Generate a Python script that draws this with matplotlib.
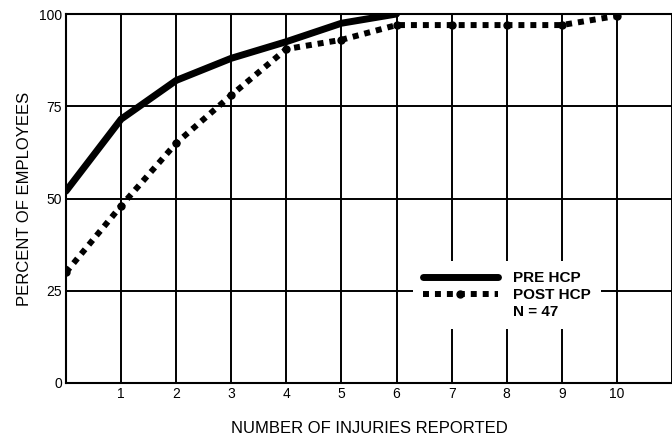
import matplotlib.pyplot as plt
from matplotlib.lines import Line2D

plt.rcParams['font.family'] = ['Liberation Sans', 'DejaVu Sans']

# data
injuries_pre = [0, 1, 2, 3, 4, 5, 6]
pct_pre = [52, 71.5, 82, 88, 92.5, 97.5, 100]
injuries_post = [0, 1, 2, 3, 4, 5, 6, 7, 8, 9, 10]
pct_post = [30, 48, 65, 78, 90.5, 93, 97, 97, 97, 97, 99.5]
x_ticks = [1, 2, 3, 4, 5, 6, 7, 8, 9, 10]
y_ticks = [0, 25, 50, 75, 100]

fig = plt.figure(figsize=(6.72, 4.38), dpi=100)
ax = fig.add_axes([66 / 672, 55 / 438, 606 / 672, 369 / 438])

# grid lines
for xv in x_ticks + [11]:
    ax.axvline(xv, color='black', lw=1.4, zorder=1)
for yv in y_ticks[1:]:
    ax.axhline(yv, color='black', lw=1.4, zorder=1)

ax.plot(injuries_pre, pct_pre, color='black', lw=5,
        solid_capstyle='round', solid_joinstyle='round', zorder=3)
ax.plot(injuries_post, pct_post, color='black', lw=4.3,
        linestyle=(0, (1, 1)), dash_capstyle='butt',
        marker='o', markersize=5, zorder=3)

ax.set_xlim(0, 11)
ax.set_ylim(0, 100)
ax.set_xticks(x_ticks)
ax.set_yticks(y_ticks)
ax.tick_params(length=0, labelsize=10, pad=3)
for s in ['left', 'bottom', 'top']:
    ax.spines[s].set_linewidth(1.5)
ax.spines['right'].set_visible(False)

ax.set_xlabel('NUMBER OF INJURIES REPORTED', fontsize=12, labelpad=14)
ax.set_ylabel('PERCENT OF EMPLOYEES', fontsize=12, labelpad=5)

handles = [
    Line2D([], [], color='black', lw=5, solid_capstyle='round'),
    Line2D([], [], color='black', lw=4.3, linestyle=(0, (1, 1)),
           marker='o', markersize=5, markevery=[0, -1]),
    Line2D([], [], color='none'),
]
leg = ax.legend(handles, ['PRE HCP', 'POST HCP', 'N = 47'],
                loc='upper left', bbox_to_anchor=(347 / 606, 122 / 369),
                frameon=True, fancybox=False, framealpha=1,
                edgecolor='none', facecolor='white',
                handlelength=4.9, handletextpad=1.0, labelspacing=0.2,
                borderpad=0.65, borderaxespad=0,
                prop={'weight': 'bold', 'size': 11})
leg.set_zorder(5)

fig.savefig('out.png', dpi=100)
